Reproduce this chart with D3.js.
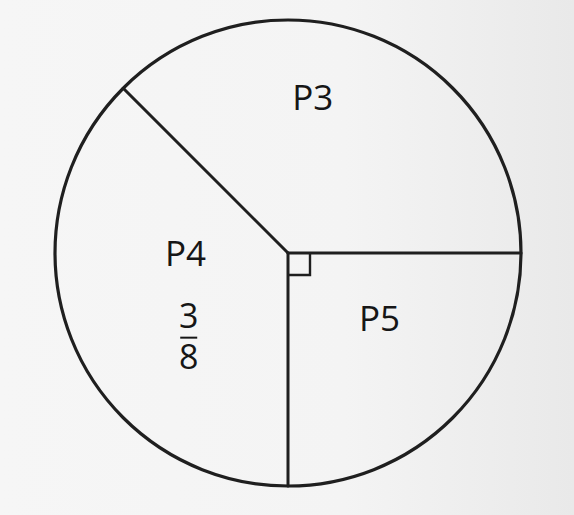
<!DOCTYPE html>
<html>
<head>
<meta charset="utf-8">
<script src="https://cdn.jsdelivr.net/npm/d3@7"></script>
<style>
  html, body { margin: 0; padding: 0; background: #f3f3f3; }
  svg { display: block; }
</style>
</head>
<body>
<script>
// ---- data ----
const categories = ["P5", "P4", "P3"];
const fractions = [1 / 4, 3 / 8, 3 / 8];          // share of the whole circle
const fractionLabels = ["", "3/8", ""];          // fraction written inside a slice
const rightAngleSlice = ["P5"];                   // slice marked with a right-angle box

// ---- layout ----
const W = 574, H = 515;
const cx = 288, cy = 253, R = 233;
// label placement: position along slice span (0..1) and radius fraction
const labelPlace = { P5: [0.39, 0.48], P4: [0.67, 0.44], P3: [0.40, 0.68] };
const fracPlace = [0.367, 0.56];

const svg = d3.select("body").append("svg").attr("width", W).attr("height", H);

const defs = svg.append("defs");
const grad = defs.append("linearGradient").attr("id", "paper").attr("x1", "0").attr("x2", "1").attr("y1", "0").attr("y2", "0");
grad.append("stop").attr("offset", "0").attr("stop-color", "#f6f6f6");
grad.append("stop").attr("offset", "0.6").attr("stop-color", "#f4f4f4");
grad.append("stop").attr("offset", "1").attr("stop-color", "#e9e9e9");
svg.append("rect").attr("width", W).attr("height", H).attr("fill", "url(#paper)");

const data = categories.map((c, i) => ({ name: c, value: fractions[i], frac: fractionLabels[i] }));

const pie = d3.pie().sort(null).value(d => d.value)
  .startAngle(Math.PI / 2).endAngle(Math.PI / 2 + 2 * Math.PI);
const arcs = pie(data);

const g = svg.append("g").attr("transform", `translate(${cx},${cy})`);

const arc = d3.arc().innerRadius(0).outerRadius(R);
const ink = "#1f1f1f";

// slices (paper coloured, no fill)
g.selectAll("path.slice").data(arcs).join("path")
  .attr("class", "slice")
  .attr("d", arc)
  .attr("fill", "none")
  .attr("stroke", "none");

// radii
const polar = (a, r) => [r * Math.sin(a), -r * Math.cos(a)];
g.selectAll("line.radius").data(arcs).join("line")
  .attr("class", "radius")
  .attr("x1", 0).attr("y1", 0)
  .attr("x2", d => polar(d.startAngle, R)[0])
  .attr("y2", d => polar(d.startAngle, R)[1])
  .attr("stroke", ink).attr("stroke-width", 3)
  .attr("stroke-linecap", "round");

// outer circle
g.append("circle").attr("r", R).attr("fill", "none").attr("stroke", ink).attr("stroke-width", 3.2);

// right-angle marker
const box = 22;
arcs.filter(d => rightAngleSlice.includes(d.data.name)).forEach(d => {
  const a0 = d.startAngle, a1 = d.endAngle;
  const p0 = polar(a0, box), p1 = polar(a1, box);
  const corner = [p0[0] + p1[0], p0[1] + p1[1]];
  g.append("path")
    .attr("d", `M${p0[0]},${p0[1]}L${corner[0]},${corner[1]}L${p1[0]},${p1[1]}`)
    .attr("fill", "none").attr("stroke", ink).attr("stroke-width", 2.4);
});

const font = "'Open Sans', 'Noto Sans', sans-serif";

// category labels
g.selectAll("text.cat").data(arcs).join("text")
  .attr("class", "cat")
  .attr("transform", d => {
    const [t, rf] = labelPlace[d.data.name];
    const a = d.startAngle + t * (d.endAngle - d.startAngle);
    const p = polar(a, rf * R);
    return `translate(${p[0]},${p[1]})`;
  })
  .attr("text-anchor", "middle")
  .attr("dominant-baseline", "central")
  .attr("font-family", font)
  .attr("font-size", 35)
  .attr("fill", "#161616")
  .text(d => d.data.name);

// fraction labels
arcs.filter(d => d.data.frac).forEach(d => {
  const [num, den] = d.data.frac.split("/");
  const a = d.startAngle + fracPlace[0] * (d.endAngle - d.startAngle);
  const p = polar(a, fracPlace[1] * R);
  const fg = g.append("g").attr("transform", `translate(${p[0]},${p[1]})`);
  fg.append("text").attr("y", -23).attr("text-anchor", "middle").attr("dominant-baseline", "central")
    .attr("font-family", font).attr("font-size", 34).attr("fill", "#161616").text(num);
  fg.append("line").attr("x1", -8.5).attr("x2", 8.5).attr("y1", 0).attr("y2", 0)
    .attr("stroke", "#161616").attr("stroke-width", 2);
  fg.append("text").attr("y", 18.5).attr("text-anchor", "middle").attr("dominant-baseline", "central")
    .attr("font-family", font).attr("font-size", 34).attr("fill", "#161616").text(den);
});
</script>
</body>
</html>
